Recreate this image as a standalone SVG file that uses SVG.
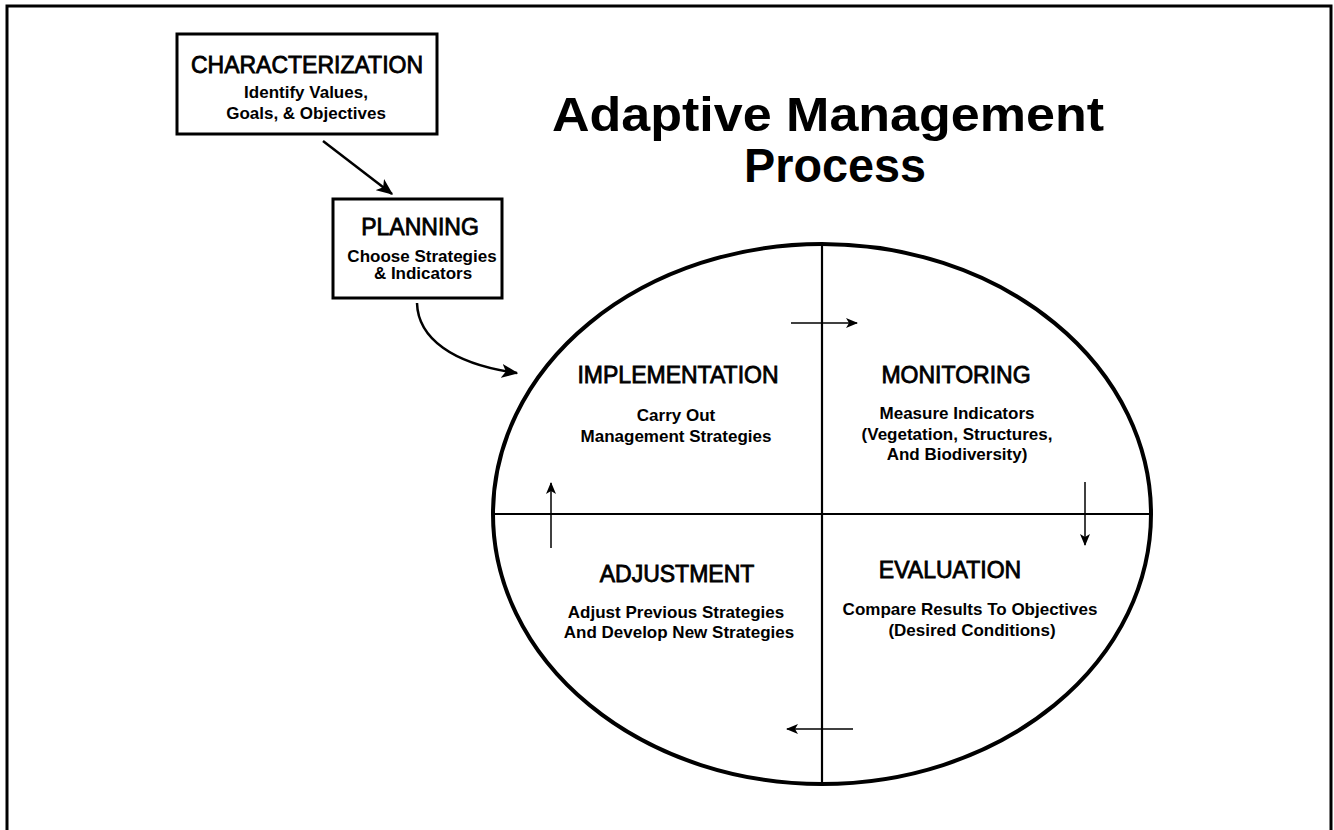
<svg xmlns="http://www.w3.org/2000/svg" width="1334" height="830" viewBox="0 0 1334 830">
<defs>
<style>
text{font-family:"Liberation Sans",Arial,sans-serif;fill:#000;text-anchor:middle}
.h{font-size:23px;stroke:#000;stroke-width:0.8}
.s{font-size:17px;font-weight:bold}
.t{font-size:49px;font-weight:bold}
.box{fill:#fff;stroke:#000;stroke-width:3}
.ln{fill:none;stroke:#000}
</style>
<marker id="ah" viewBox="0 0 12 10" refX="11" refY="5" markerWidth="12" markerHeight="10" markerUnits="userSpaceOnUse" orient="auto">
<path d="M0,0 L12,5 L0,10 L3,5 z" fill="#000"/>
</marker>
<marker id="ahb" viewBox="0 0 12 10" refX="11" refY="5" markerWidth="17" markerHeight="14" markerUnits="userSpaceOnUse" orient="auto">
<path d="M0,0 L12,5 L0,10 L3,5 z" fill="#000"/>
</marker>
</defs>
<rect width="1334" height="830" fill="#fff"/>
<path class="ln" d="M7,832 V6 H1331 V832" stroke-width="3"/>
<g id="title">
<text class="t" x="828" y="131" textLength="552" lengthAdjust="spacingAndGlyphs">Adaptive Management</text>
<text class="t" x="835" y="182" textLength="182" lengthAdjust="spacingAndGlyphs">Process</text>
</g>
<g id="cycle">
<ellipse cx="822" cy="514" rx="329" ry="270" fill="none" stroke="#000" stroke-width="4"/>
<line x1="822" y1="244" x2="822" y2="784" stroke="#000" stroke-width="2.2"/>
<line x1="493" y1="514" x2="1151" y2="514" stroke="#000" stroke-width="2.2"/>
</g>
<g id="characterization">
<rect class="box" x="177" y="34" width="260" height="100"/>
<text class="h" x="307" y="73">CHARACTERIZATION</text>
<text class="s" x="306" y="98">Identify Values,</text>
<text class="s" x="306" y="119">Goals, &amp; Objectives</text>
</g>
<g id="planning">
<rect class="box" x="333" y="199" width="169" height="99"/>
<text class="h" x="420" y="235">PLANNING</text>
<text class="s" x="422" y="262">Choose Strategies</text>
<text class="s" x="423" y="279">&amp; Indicators</text>
</g>
<g id="implementation">
<text class="h" x="678" y="383">IMPLEMENTATION</text>
<text class="s" x="676" y="421">Carry Out</text>
<text class="s" x="676" y="442">Management Strategies</text>
</g>
<g id="monitoring">
<text class="h" x="956" y="383">MONITORING</text>
<text class="s" x="957" y="419">Measure Indicators</text>
<text class="s" x="957" y="440">(Vegetation, Structures,</text>
<text class="s" x="957" y="460">And Biodiversity)</text>
</g>
<g id="evaluation">
<text class="h" x="950" y="578">EVALUATION</text>
<text class="s" x="970" y="615">Compare Results To Objectives</text>
<text class="s" x="972" y="636">(Desired Conditions)</text>
</g>
<g id="adjustment">
<text class="h" x="677" y="582">ADJUSTMENT</text>
<text class="s" x="676" y="618">Adjust Previous Strategies</text>
<text class="s" x="679" y="638">And Develop New Strategies</text>
</g>
<g id="connectors">
<line class="ln" x1="323" y1="141" x2="392" y2="194" stroke-width="2.5" marker-end="url(#ahb)"/>
<path class="ln" d="M417,303 C418,338 452,364 517,373" stroke-width="2.5" marker-end="url(#ahb)"/>
<line class="ln" x1="791" y1="323" x2="857" y2="323" stroke-width="1.5" marker-end="url(#ah)"/>
<line class="ln" x1="1085" y1="482" x2="1085" y2="545" stroke-width="1.5" marker-end="url(#ah)"/>
<line class="ln" x1="853" y1="729" x2="787" y2="729" stroke-width="1.5" marker-end="url(#ah)"/>
<line class="ln" x1="551" y1="548" x2="551" y2="483" stroke-width="1.5" marker-end="url(#ah)"/>
</g>
</svg>
